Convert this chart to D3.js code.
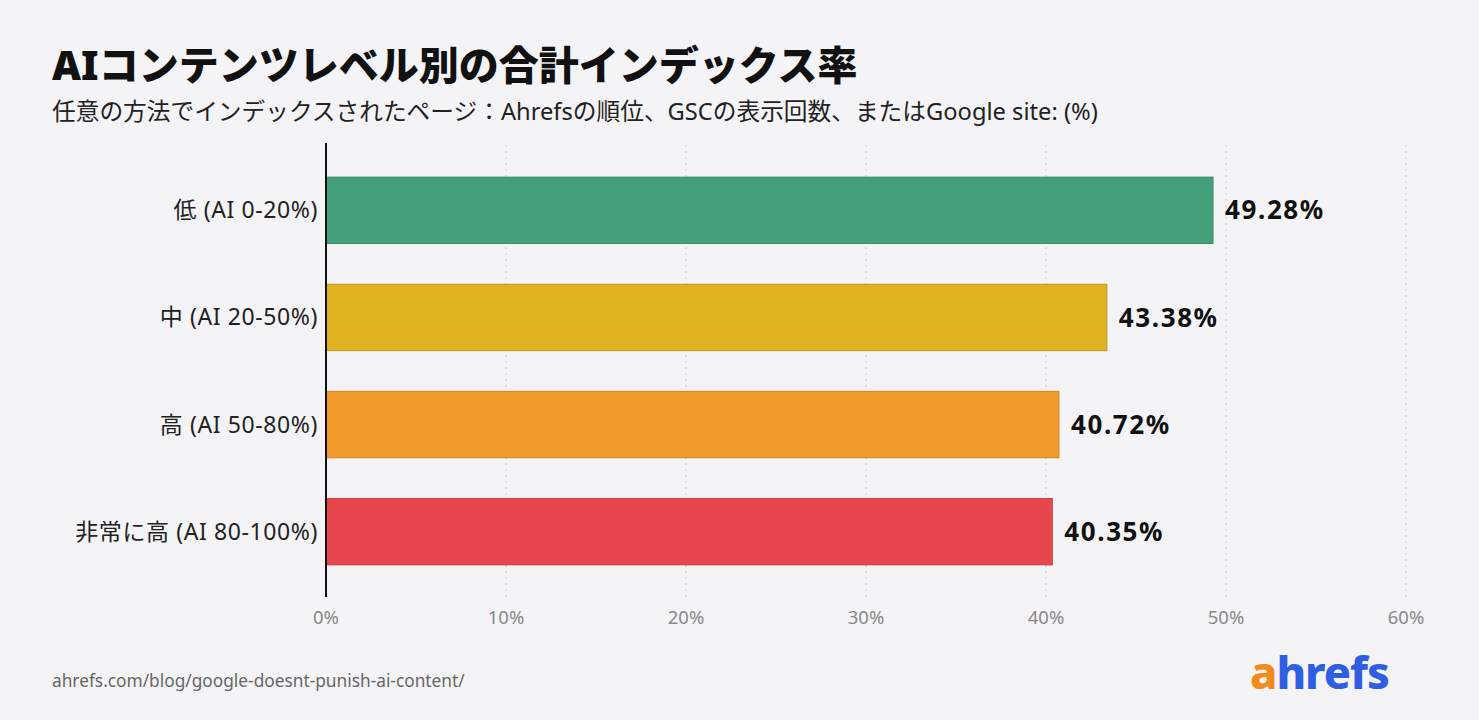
<!DOCTYPE html>
<html>
<head>
<meta charset="utf-8">
<script src="https://d3js.org/d3.v7.min.js"></script>
<style>
  body { margin:0; background:#f4f4f6; }
  text { font-family: "Noto Sans", "Noto Sans CJK JP", sans-serif; }
</style>
</head>
<body>
<script>
var categories = ["低 (AI 0-20%)", "中 (AI 20-50%)", "高 (AI 50-80%)", "非常に高 (AI 80-100%)"];
var values = [49.28, 43.38, 40.72, 40.35];
var colors = ["#43a07a", "#dfb220", "#f0982a", "#e5474c"];
var ticks = [0, 10, 20, 30, 40, 50, 60];

var width = 1479, height = 720;
var svg = d3.select("body").append("svg").attr("width", width).attr("height", height);
svg.append("rect").attr("width", width).attr("height", height).attr("fill", "#f4f4f6");

var x = d3.scaleLinear().domain([0, 60]).range([326, 1406]);
var y = d3.scaleBand().domain(categories).range([145, 597]).paddingInner(0.38).paddingOuter(0.3);

// gridlines
svg.selectAll(".grid").data(ticks.slice(1)).enter().append("line")
  .attr("x1", d => x(d)).attr("x2", d => x(d))
  .attr("y1", 145).attr("y2", 597)
  .attr("stroke", "#c8c8cc").attr("stroke-width", 1).attr("stroke-dasharray", "2,4");

svg.selectAll(".bar").data(values).enter().append("rect")
  .attr("x", x(0))
  .attr("y", (d, i) => y(categories[i]))
  .attr("width", d => x(d) - x(0))
  .attr("height", y.bandwidth())
  .attr("fill", (d, i) => colors[i])
  .attr("stroke", (d, i) => d3.color(colors[i]).darker(0.4))
  .attr("stroke-width", 1);

svg.selectAll(".val").data(values).enter().append("text")
  .attr("x", d => x(d) + 12)
  .attr("y", (d, i) => y(categories[i]) + y.bandwidth() / 2)
  .attr("dy", "0.35em")
  .attr("font-size", 26).attr("font-weight", 700).attr("letter-spacing", 1.6).attr("fill", "#111")
  .text(d => d.toFixed(2) + "%");

svg.selectAll(".cat").data(categories).enter().append("text")
  .attr("x", 318)
  .attr("y", d => y(d) + y.bandwidth() / 2)
  .attr("dy", "0.35em")
  .attr("text-anchor", "end")
  .attr("font-size", 23).attr("letter-spacing", 0.6).attr("fill", "#222")
  .text(d => d);

svg.append("line").attr("x1", x(0)).attr("x2", x(0)).attr("y1", 143).attr("y2", 597)
  .attr("stroke", "#111").attr("stroke-width", 2);

svg.selectAll(".tick").data(ticks).enter().append("text")
  .attr("x", d => x(d)).attr("y", 624)
  .attr("text-anchor", "middle")
  .attr("font-size", 18.5).attr("fill", "#888")
  .text(d => d + "%");

svg.append("text").attr("x", 52).attr("y", 80)
  .attr("font-size", 40).attr("font-weight", 900).attr("fill", "#111")
  .text("AIコンテンツレベル別の合計インデックス率");
svg.append("text").attr("x", 52).attr("y", 120)
  .attr("font-size", 23.7).attr("fill", "#222")
  .text("任意の方法でインデックスされたページ：Ahrefsの順位、GSCの表示回数、またはGoogle site: (%)");

svg.append("text").attr("x", 52).attr("y", 687)
  .attr("font-size", 17.3).attr("fill", "#666")
  .text("ahrefs.com/blog/google-doesnt-punish-ai-content/");

var logo = svg.append("text").attr("x", 1250).attr("y", 689)
  .attr("font-size", 45).attr("font-weight", 800).attr("letter-spacing", -1);
logo.append("tspan").attr("fill", "#f28a1e").text("a");
logo.append("tspan").attr("fill", "#2f5ee3").text("hrefs");
</script>
</body>
</html>
